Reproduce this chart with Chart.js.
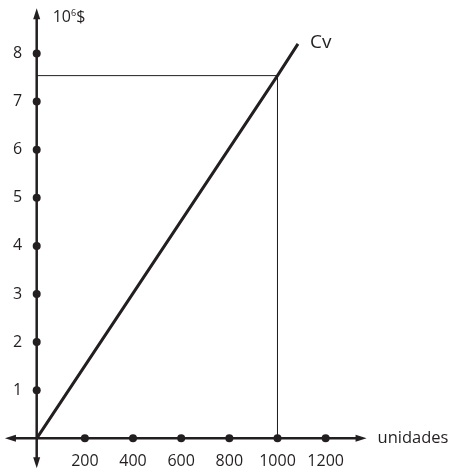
<!DOCTYPE html>
<html>
<head>
<meta charset="utf-8">
<script src="https://cdn.jsdelivr.net/npm/chart.js@4"></script>
<style>
  html, body { margin: 0; padding: 0; background: #ffffff; }
  #wrap { width: 454px; height: 472px; }
</style>
</head>
<body>
<div id="wrap"><canvas id="cvChart" width="454" height="472"></canvas></div>
<script>
// datos del grafico
const xTicks = [200, 400, 600, 800, 1000, 1200];
const yTicks = [1, 2, 3, 4, 5, 6, 7, 8];
const cvUnidades = [0, 1000, 1085];
const cvCosto = [0, 7.54, 8.2];
const guiaUnidades = [0, 1000, 1000];
const guiaCosto = [7.54, 7.54, 0];
// extremos de las flechas de los ejes
const ejeX = [-132, 1370];
const ejeY = [-0.62, 8.94];

const ink = "#231f20";
const fuente = "'Open Sans', 'Noto Sans', sans-serif";

// ejes con flechas y textos
const ejesPlugin = {
  id: "ejes",
  beforeDatasetsDraw(chart) {
    const ctx = chart.ctx;
    const xs = chart.scales.x;
    const ys = chart.scales.y;
    const x0 = xs.getPixelForValue(0);
    const y0 = ys.getPixelForValue(0);
    const left = xs.getPixelForValue(ejeX[0]);
    const right = xs.getPixelForValue(ejeX[1]);
    const top = ys.getPixelForValue(ejeY[1]);
    const bottom = ys.getPixelForValue(ejeY[0]);

    ctx.save();
    ctx.strokeStyle = ink;
    ctx.fillStyle = ink;
    ctx.lineWidth = 2.5;
    ctx.beginPath();
    ctx.moveTo(left + 6, y0);
    ctx.lineTo(right - 6, y0);
    ctx.moveTo(x0, top + 6);
    ctx.lineTo(x0, bottom - 6);
    ctx.stroke();

    function flecha(tx, ty, dx, dy) {
      const len = 11, half = 3.5;
      const bx = tx - dx * len, by = ty - dy * len;
      ctx.beginPath();
      ctx.moveTo(tx, ty);
      ctx.lineTo(bx - dy * half, by + dx * half);
      ctx.lineTo(bx + dy * half, by - dx * half);
      ctx.closePath();
      ctx.fill();
    }
    flecha(right, y0, 1, 0);
    flecha(left, y0, -1, 0);
    flecha(x0, top, 0, -1);
    flecha(x0, bottom, 0, 1);

    ctx.font = "16px " + fuente;
    ctx.textAlign = "center";
    ctx.textBaseline = "middle";
    xTicks.forEach(v => {
      ctx.fillText(String(v), xs.getPixelForValue(v), y0 + 23);
    });
    yTicks.forEach(v => {
      ctx.fillText(String(v), x0 - 19, ys.getPixelForValue(v));
    });

    ctx.textAlign = "left";
    ctx.font = "16.5px " + fuente;
    ctx.fillText("unidades", right + 11, y0);

    // etiqueta del eje y: 10^6 $
    ctx.font = "16px " + fuente;
    ctx.fillText("10", x0 + 16, top + 9);
    const w10 = ctx.measureText("10").width;
    ctx.font = "9px " + fuente;
    ctx.fillText("6", x0 + 16 + w10, top + 5);
    const w6 = ctx.measureText("6").width;
    ctx.font = "16px " + fuente;
    ctx.fillText("$", x0 + 16 + w10 + w6, top + 9);

    // etiqueta de la recta
    ctx.font = "19px " + fuente;
    const n = cvUnidades.length - 1;
    ctx.fillText("Cv", xs.getPixelForValue(cvUnidades[n]) + 12, ys.getPixelForValue(cvCosto[n]) - 1);
    ctx.restore();
  }
};

const puntosX = xTicks.map(v => ({ x: v, y: 0 }));
const puntosY = yTicks.map(v => ({ x: 0, y: v }));

new Chart(document.getElementById("cvChart").getContext("2d"), {
  type: "scatter",
  data: {
    datasets: [
      {
        label: "guia",
        data: guiaUnidades.map((u, i) => ({ x: u, y: guiaCosto[i] })),
        showLine: true,
        borderColor: ink,
        borderWidth: 1,
        pointRadius: 0,
        fill: false,
      },
      {
        label: "Cv",
        data: cvUnidades.map((u, i) => ({ x: u, y: cvCosto[i] })),
        showLine: true,
        borderColor: ink,
        borderWidth: 3,
        pointRadius: 0,
        fill: false,
      },
      {
        label: "marcas",
        data: puntosX.concat(puntosY),
        showLine: false,
        pointRadius: 4,
        pointBackgroundColor: ink,
        pointBorderWidth: 0,
      },
    ],
  },
  options: {
    responsive: false,
    animation: false,
    layout: { padding: 0, autoPadding: false },
    plugins: {
      legend: { display: false },
      tooltip: { enabled: false },
    },
    scales: {
      x: { type: "linear", min: -152.4, max: 1733, display: false },
      y: { type: "linear", min: -0.70, max: 9.112, display: false },
    },
  },
  plugins: [ejesPlugin],
});
</script>
</body>
</html>
